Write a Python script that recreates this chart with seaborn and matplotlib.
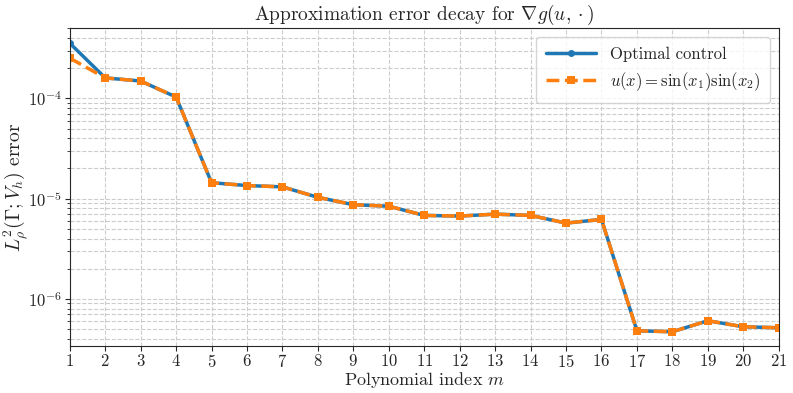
import numpy as np
import pandas as pd
import seaborn as sns
import matplotlib.pyplot as plt

# Veriler
m_index = list(range(1, 22))
err_optimal = [3.55e-4, 1.60e-4, 1.49e-4, 1.03e-4, 1.44e-5, 1.35e-5, 1.31e-5,
               1.03e-5, 8.7e-6, 8.4e-6, 6.8e-6, 6.7e-6, 7.0e-6, 6.8e-6,
               5.7e-6, 6.2e-6, 4.8e-7, 4.7e-7, 6.05e-7, 5.27e-7, 5.15e-7]
err_sin = [2.52e-4, 1.60e-4, 1.49e-4, 1.03e-4, 1.44e-5, 1.35e-5, 1.31e-5,
           1.03e-5, 8.7e-6, 8.4e-6, 6.8e-6, 6.7e-6, 7.0e-6, 6.8e-6,
           5.7e-6, 6.2e-6, 4.8e-7, 4.7e-7, 6.05e-7, 5.27e-7, 5.15e-7]
labels = ["Optimal control", r"$u(x) = \sin(x_1)\sin(x_2)$"]

df = pd.DataFrame({"m": m_index, "opt": err_optimal, "sin": err_sin})

sns.set_style("ticks")
plt.rcParams['font.family'] = 'serif'
plt.rcParams['font.serif'] = ['cmr10']
plt.rcParams['mathtext.fontset'] = 'cm'
plt.rcParams['axes.formatter.use_mathtext'] = True

fig, ax = plt.subplots(figsize=(7.93, 3.93), dpi=100)

sns.lineplot(data=df, x="m", y="opt", ax=ax, color="#1f77b4", linewidth=2.5,
             marker="o", markersize=5, markeredgewidth=0, label=labels[0])
sns.lineplot(data=df, x="m", y="sin", ax=ax, color="#ff7f0e", linewidth=2.5,
             linestyle="--", marker="s", markersize=6, markeredgewidth=0, label=labels[1])

ax.set_yscale("log")
ax.set_xlim(1, 21)
ax.set_ylim(3.4e-7, 5.0e-4)
ax.set_xticks(m_index)
ax.grid(True, which="both", linestyle="--", color="#cccccc", linewidth=0.8)
ax.set_axisbelow(True)

ax.set_title(r"Approximation error decay for $\nabla g(u,\cdot)$", fontsize=14)
ax.set_xlabel(r"Polynomial index $m$", fontsize=13, labelpad=0)
ax.set_ylabel(r"$L^2_\rho(\Gamma; V_h)$ error", fontsize=14, labelpad=-1.5)
ax.tick_params(labelsize=12, pad=2)
ax.legend(loc="upper right", fontsize=12, handlelength=3, borderpad=0.6)

plt.subplots_adjust(left=0.088, right=0.982, top=0.928, bottom=0.12)
plt.savefig("out.png", dpi=100)
